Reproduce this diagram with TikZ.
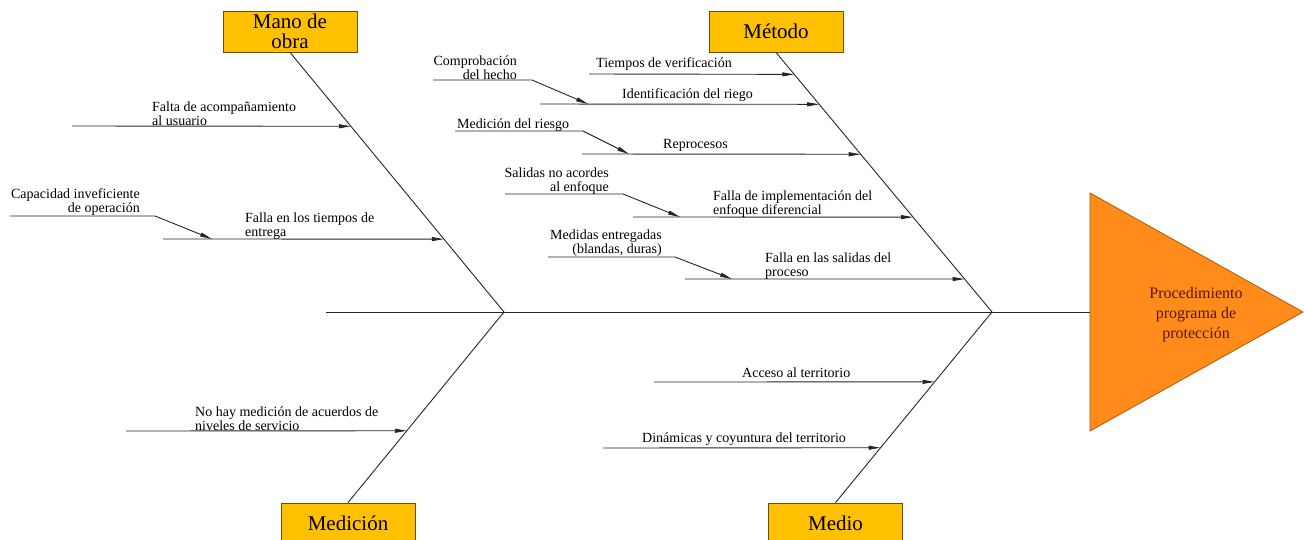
\documentclass[tikz,border=0pt]{standalone}
\usepackage{fontspec}
\setmainfont{Liberation Serif}
\usetikzlibrary{arrows.meta,calc}
\definecolor{boxfill}{HTML}{FFC000}
\definecolor{boxdraw}{HTML}{6B4E00}
\definecolor{trifill}{HTML}{FF8C1A}
\definecolor{tridraw}{HTML}{B25A00}
\definecolor{tritext}{HTML}{5A1500}
\begin{document}
\begin{tikzpicture}[x=1pt,y=-1pt,
 bone/.style={line width=0.9pt, draw=black!85},
 cause/.style={line width=0.9pt, draw=black!85, -{Triangle[length=12pt,width=4pt]}},
 lbl/.style={font=\fontsize{14}{14}\selectfont, inner sep=0pt, align=left, anchor=south west, yshift=-2pt},
 lblr/.style={lbl, align=right, anchor=south east},
 cat/.style={draw=boxdraw, fill=boxfill, line width=0.8pt, minimum width=134pt, minimum height=41pt, inner sep=0pt, align=center, font=\fontsize{21}{20}\selectfont},
]
\useasboundingbox (0,0) rectangle (1304,539);
\fill[white] (0,0) rectangle (1304,539);

% effect
\coordinate (tri) at (1090,312);
\coordinate (triT) at (1090,193);
\coordinate (triB) at (1090,431);
\coordinate (triP) at (1303,312);
\draw[fill=trifill, draw=tridraw, line width=0.8pt] (triT) -- (triP) -- (triB) -- cycle;
\node[font=\fontsize{16}{20}\selectfont, text=tritext, align=center] (effect) at (1196,315) {Procedimiento\\programa de\\protección};

% spine
\coordinate (tail) at (326,312);
\coordinate (jL) at (504,312);
\coordinate (jR) at (992,312);
\draw[bone] (tail) -- (tri);

% categories
\node[cat] (mano) at (290,31.5) {Mano de\\obra};
\node[cat] (metodo) at (776,31.5) {Método};
\node[cat] (medicion) at (348,523.5) {Medición};
\node[cat] (medio) at (835.5,523.5) {Medio};

\draw[bone] (mano.south) -- (jL);
\draw[bone] (metodo.south) -- (jR);
\draw[bone] (medicion.north) -- (jL);
\draw[bone] (medio.north) -- (jR);

% points on bones
\coordinate (m1) at ($(mano.south)!0.2846!(jL)$);
\coordinate (m2) at ($(mano.south)!0.7192!(jL)$);
\coordinate (d1) at ($(jL)!0.623!(medicion.north)$);
\coordinate (t1) at ($(metodo.south)!0.0846!(jR)$);
\coordinate (t2) at ($(metodo.south)!0.2!(jR)$);
\coordinate (t3) at ($(metodo.south)!0.3923!(jR)$);
\coordinate (t4) at ($(metodo.south)!0.6346!(jR)$);
\coordinate (t5) at ($(metodo.south)!0.873!(jR)$);
\coordinate (e1) at ($(jR)!0.3665!(medio.north)$);
\coordinate (e2) at ($(jR)!0.712!(medio.north)$);

% Mano de obra
\coordinate (s1) at (72,126);
\draw[cause] (s1) -- (m1);
\node[lbl] (l1) at (152,124) {Falta de acompañamiento\\al usuario};
\coordinate (s2) at (163,239);
\draw[cause] (s2) -- (m2);
\node[lbl] (l2) at (245,238) {Falla en los tiempos de\\entrega};
\coordinate (c1a) at (10,216);
\coordinate (c1b) at (155,216);
\coordinate (c1c) at (212,239);
\draw[cause] (c1a) -- (c1b) -- (c1c);
\node[lblr] (k1) at (140,214) {Capacidad inveficiente\\de operación};

% Medicion
\coordinate (s3) at (126,431);
\draw[cause] (s3) -- (d1);
\node[lbl] (l3) at (195,429) {No hay medición de acuerdos de\\niveles de servicio};

% Metodo
\coordinate (u1) at (589,74);
\draw[cause] (u1) -- (t1);
\node[lbl] (n1) at (596,69) {Tiempos de verificación};
\coordinate (u2) at (540,104);
\draw[cause] (u2) -- (t2);
\node[lbl] (n2) at (622,100) {Identificación del riego};
\coordinate (c2a) at (433,80);
\coordinate (c2b) at (532,80);
\coordinate (c2c) at (588,104);
\draw[cause] (c2a) -- (c2b) -- (c2c);
\node[lblr] (k2) at (517,78) {Comprobación\\del hecho};
\coordinate (u3) at (582,154);
\draw[cause] (u3) -- (t3);
\node[lbl] (n3) at (663,150) {Reprocesos};
\coordinate (c3a) at (455,131);
\coordinate (c3b) at (583,131);
\coordinate (c3c) at (629,154);
\draw[cause] (c3a) -- (c3b) -- (c3c);
\node[lbl] (k3) at (457,130) {Medición del riesgo};
\coordinate (u4) at (633,217);
\draw[cause] (u4) -- (t4);
\node[lbl] (n4) at (713,216) {Falla de implementación del\\enfoque diferencial};
\coordinate (c4a) at (505,194);
\coordinate (c4b) at (623,194);
\coordinate (c4c) at (680,217);
\draw[cause] (c4a) -- (c4b) -- (c4c);
\node[lblr] (k4) at (609,193) {Salidas no acordes\\al enfoque};
\coordinate (u5) at (685,279);
\draw[cause] (u5) -- (t5);
\node[lbl] (n5) at (765,278) {Falla en las salidas del\\proceso};
\coordinate (c5a) at (548,257);
\coordinate (c5b) at (675,257);
\coordinate (c5c) at (732,279);
\draw[cause] (c5a) -- (c5b) -- (c5c);
\node[lblr] (k5) at (662,255) {Medidas entregadas\\(blandas, duras)};

% Medio
\coordinate (v1) at (654,382);
\draw[cause] (v1) -- (e1);
\node[lbl] (p1) at (742,376) {Acceso al territorio};
\coordinate (v2) at (603,448);
\draw[cause] (v2) -- (e2);
\node[lbl] (p2) at (642,444) {Dinámicas y coyuntura del territorio};
\end{tikzpicture}
\end{document}
